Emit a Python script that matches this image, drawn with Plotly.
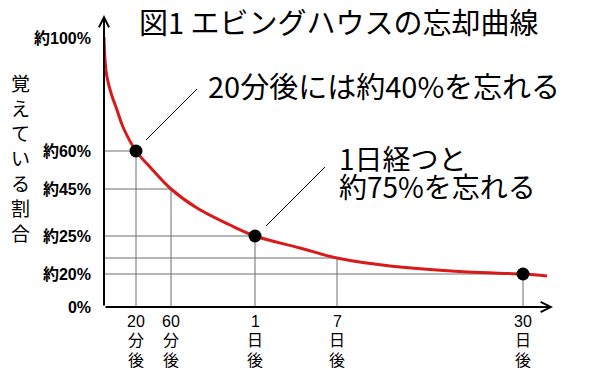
import plotly.graph_objects as go

# ---- data (schematic positions; axes are not to scale) ----
curve_x = [0, 1, 3, 7, 13, 19, 32, 46, 67, 93, 126, 151, 196, 233, 286, 363, 419, 443]
curve_y = [270, 247, 230, 214, 197, 180, 156, 140, 118, 99, 82, 71, 59, 49, 41, 35, 33, 31]

x_tick_pos = [32, 67, 151, 233, 419]
x_tick_num = ["20", "60", "1", "7", "30"]
x_tick_unit = ["分", "分", "日", "日", "日"]
x_tick_after = ["後", "後", "後", "後", "後"]
curve_at_tick = [156, 118, 71, 49, 33]
marked = [True, False, True, False, True]

y_tick_pos = [0, 33, 71, 118, 156, 269]
y_tick_text = ["0%", "約20%", "約25%", "約45%", "約60%", "約100%"]

title_text = "図1 エビングハウスの忘却曲線"
callout1 = "20分後には約40%を忘れる"
callout2 = ["1日経つと", "約75%を忘れる"]
y_title = "覚えている割合"

CJK = "Noto Sans CJK JP"
LBL = "Liberation Sans, Noto Sans CJK JP"

fig = go.Figure()

# grid lines from axes to the curve
gx, gy = [], []
for xp, yp in zip(x_tick_pos, curve_at_tick):
    gx += [0, xp, None, xp, xp, None]
    gy += [yp, yp, None, 0, yp, None]
fig.add_trace(go.Scatter(x=gx, y=gy, mode="lines",
                         line=dict(color="#6e6e6e", width=1), hoverinfo="skip", showlegend=False))

# leader lines
fig.add_trace(go.Scatter(x=[42, 93, None, 162, 221], y=[167, 218, None, 81, 140], mode="lines",
                         line=dict(color="black", width=1), hoverinfo="skip", showlegend=False))

# curve
fig.add_trace(go.Scatter(x=curve_x, y=curve_y, mode="lines",
                         line=dict(color="#d91a1a", width=3, shape="spline", smoothing=1),
                         showlegend=False))

# marked points
mx = [x for x, m in zip(x_tick_pos, marked) if m]
my = [y for y, m in zip(curve_at_tick, marked) if m]
fig.add_trace(go.Scatter(x=mx, y=my, mode="markers",
                         marker=dict(color="black", size=13), showlegend=False))

ann = []
# axes with arrows
ann.append(dict(x=0, y=292, ax=0, ay=0, xref="x", yref="y", axref="x", ayref="y",
                text="", showarrow=True, arrowhead=5, arrowsize=1, arrowwidth=2,
                arrowcolor="black", standoff=0))
ann.append(dict(x=449, y=0, ax=0, ay=0, xref="x", yref="y", axref="x", ayref="y",
                text="", showarrow=True, arrowhead=5, arrowsize=1, arrowwidth=2,
                arrowcolor="black", standoff=0))

# x tick labels (stacked vertically, below the axis)
for xp, a, b, c in zip(x_tick_pos, x_tick_num, x_tick_unit, x_tick_after):
    for t, sh in zip([a, b, c], [-14, -33, -53]):
        ann.append(dict(x=xp, y=0, xref="x", yref="paper", yshift=sh, text=t, showarrow=False,
                        xanchor="center", yanchor="middle",
                        font=dict(family=LBL, size=16, color="black")))

# title and callouts
ann.append(dict(x=33, y=286, xref="x", yref="y", text=title_text, showarrow=False,
                xanchor="left", yanchor="middle", font=dict(family=CJK, size=29, color="black")))
ann.append(dict(x=102, y=222, xref="x", yref="y", text=callout1, showarrow=False,
                xanchor="left", yanchor="middle", font=dict(family=CJK, size=29, color="black")))
for t, yy in zip(callout2, [149, 121]):
    ann.append(dict(x=233, y=yy, xref="x", yref="y", text=t, showarrow=False,
                    xanchor="left", yanchor="middle", font=dict(family=CJK, size=28, color="black")))

# vertical y-axis title, one character per row
for i, ch in enumerate(y_title):
    ann.append(dict(x=0, y=225 - 25 * i, xref="paper", yref="y", xshift=-84, text=ch,
                    showarrow=False, xanchor="center", yanchor="middle",
                    font=dict(family=CJK, size=19, color="black")))

fig.update_layout(
    width=600, height=380,
    margin=dict(l=104, r=44, t=12, b=73),
    paper_bgcolor="white", plot_bgcolor="white",
    xaxis=dict(range=[0, 452], visible=False, fixedrange=True),
    yaxis=dict(range=[0, 295], showgrid=False, zeroline=False, showline=False,
               tickmode="array", tickvals=y_tick_pos, ticktext=y_tick_text,
               ticks="", ticklabelstandoff=12,
               tickfont=dict(family=LBL, size=16, color="black", weight="bold"), fixedrange=True),
    annotations=ann,
    showlegend=False,
)

# remove the page's default 8px body margin so the figure fills the window
fig.write_html("out.html", config={"displayModeBar": False},
               post_script="document.body.style.margin='0';")
